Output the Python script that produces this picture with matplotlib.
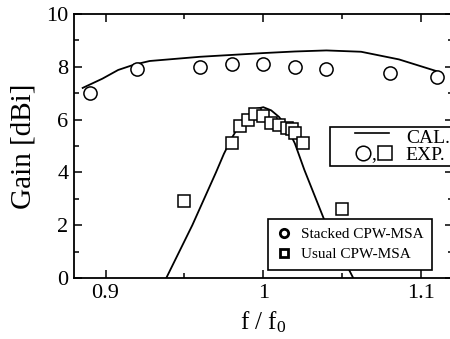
import matplotlib
matplotlib.use("Agg")
import matplotlib.pyplot as plt
from matplotlib.lines import Line2D
from matplotlib.text import Text
from matplotlib.legend_handler import HandlerBase
from matplotlib.ticker import MultipleLocator

plt.rcParams['font.family'] = ['Liberation Serif', 'DejaVu Serif']
plt.rcParams['mathtext.fontset'] = 'custom'
plt.rcParams['mathtext.rm'] = 'Liberation Serif'
plt.rcParams['mathtext.it'] = 'Liberation Serif:italic'

# measured gain, stacked CPW-MSA
stk_f = [0.89, 0.92, 0.96, 0.98, 1.00, 1.02, 1.04, 1.08, 1.11]
stk_gain = [7.0, 7.9, 8.0, 8.12, 8.12, 8.0, 7.9, 7.75, 7.63]
# calculated, stacked
stk_cal_f = [0.8855, 0.898, 0.908, 0.918, 0.928, 0.96, 1.0, 1.02, 1.04, 1.062, 1.086, 1.1096]
stk_cal_g = [7.2, 7.55, 7.88, 8.08, 8.22, 8.38, 8.52, 8.58, 8.62, 8.57, 8.28, 7.84]

# measured gain, usual CPW-MSA
usu_f = [0.95, 0.98, 0.985, 0.99, 0.995, 1.0, 1.005, 1.01, 1.015, 1.018, 1.02, 1.025, 1.05]
usu_gain = [2.9, 5.13, 5.76, 6.0, 6.2, 6.15, 5.86, 5.8, 5.7, 5.65, 5.5, 5.12, 2.6]
# calculated, usual
usu_cal_f = [0.9385, 0.955, 0.97, 0.975, 0.98, 0.985, 0.99, 0.995, 1.0, 1.005, 1.01,
             1.015, 1.02, 1.026, 1.04, 1.057]
usu_cal_g = [0.0, 2.0, 4.0, 4.7, 5.3, 5.8, 6.15, 6.4, 6.47, 6.35, 6.1,
             5.7, 5.1, 4.1, 2.0, 0.0]


class CalHandler(HandlerBase):
    # short line sitting in the right part of the handle box
    def create_artists(self, legend, orig_handle, xdescent, ydescent, width, height, fontsize, trans):
        y = height / 2 - ydescent + 0.2 * height
        ln = Line2D([0.4 * width - xdescent, 0.98 * width - xdescent], [y, y],
                    color='k', lw=1.2, transform=trans)
        return [ln]


class ExpHandler(HandlerBase):
    # circle , square
    def create_artists(self, legend, orig_handle, xdescent, ydescent, width, height, fontsize, trans):
        y = height / 2 - ydescent
        c = Line2D([0.53 * width - xdescent], [y], ls='none', marker='o', ms=10.5,
                   mfc='white', mec='k', mew=1.1, transform=trans)
        t = Text(0.71 * width - xdescent, y - 0.45 * height, ',', fontsize=fontsize,
                 ha='center', va='baseline', transform=trans)
        s = Line2D([0.91 * width - xdescent], [y], ls='none', marker='s', ms=10.5,
                   mfc='white', mec='k', mew=1.1, transform=trans)
        return [c, t, s]


fig = plt.figure(figsize=(4.5, 3.39), dpi=100)
W, H = 450, 339
ax = fig.add_axes([74 / W, (H - 278) / H, (452.6 - 74) / W, (278 - 14) / H])

ax.plot(stk_cal_f, stk_cal_g, color='k', lw=1.3)
ax.plot(usu_cal_f, usu_cal_g, color='k', lw=1.3)
ax.plot(stk_f, stk_gain, ls='none', marker='o', ms=9.5, mfc='white', mec='k', mew=1.1)
ax.plot(usu_f, usu_gain, ls='none', marker='s', ms=9, mfc='white', mec='k', mew=1.1)

ax.set_xlim(0.88, 1.12)
ax.set_ylim(0, 10)
ax.xaxis.set_minor_locator(MultipleLocator(0.05))
ax.yaxis.set_major_locator(MultipleLocator(2))
ax.yaxis.set_minor_locator(MultipleLocator(1))
ax.set_xticks([0.9, 1.0, 1.1])
ax.set_xticklabels(['0.9', '1', '1.1'])
ax.tick_params(which='both', direction='in', top=True, right=True, labelsize=16, width=1.1)
ax.tick_params(which='major', length=6, pad=4)
ax.tick_params(which='minor', length=3.5)
for s in ax.spines.values():
    s.set_linewidth(1.3)

ax.set_xlabel(r'f / f$_0$', fontsize=18, labelpad=5)
ax.set_ylabel('Gain [dBi]', fontsize=21, labelpad=7)

# legend: CAL. / EXP.
cal_h = object()
exp_h = object()
leg1 = ax.legend([cal_h, exp_h], ['CAL.', 'EXP.'], loc='upper left',
                 bbox_to_anchor=(0.676, 0.572), fontsize=14, frameon=True, fancybox=False,
                 edgecolor='k', framealpha=1, borderpad=0.1, labelspacing=0.0,
                 handlelength=3.0, handletextpad=0.8, borderaxespad=0,
                 handler_map={cal_h: CalHandler(), exp_h: ExpHandler()})
leg1.get_frame().set_linewidth(1.2)
ax.add_artist(leg1)

# legend: antenna types
h_st = Line2D([], [], ls='none', marker='o', ms=6, mfc='white', mec='k', mew=2)
h_us = Line2D([], [], ls='none', marker='s', ms=6, mfc='white', mec='k', mew=2)
leg2 = ax.legend([h_st, h_us], ['Stacked CPW-MSA', 'Usual CPW-MSA'], loc='upper left',
                 bbox_to_anchor=(0.513, 0.222), fontsize=11, frameon=True, fancybox=False,
                 edgecolor='k', framealpha=1, borderpad=0.55, labelspacing=0.4,
                 handlelength=1.0, handletextpad=0.6, borderaxespad=0)
leg2.get_frame().set_linewidth(1.2)

fig.savefig('out.png', dpi=100)
